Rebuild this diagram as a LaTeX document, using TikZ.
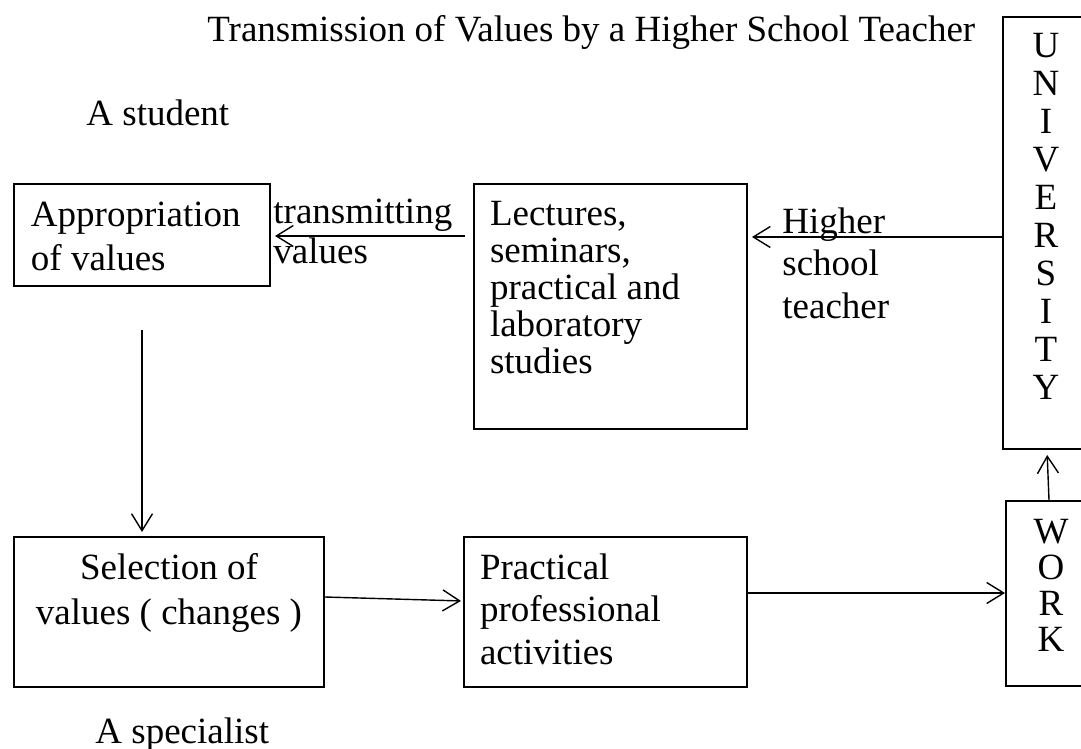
\documentclass[tikz,border=0pt]{standalone}
\usepackage{fontspec}
\setmainfont{Liberation Serif}
\usetikzlibrary{arrows.meta}

\begin{document}
\begin{tikzpicture}[x=0.5pt, y=-0.5pt,
  box/.style={draw, line width=1pt, inner ysep=0pt, anchor=north west,
    font=\fontsize{18.5pt}{#1}\selectfont},
  txt/.style={inner sep=0pt, anchor=base west, align=flush left,
    font=\fontsize{18.5pt}{#1}\selectfont},
  arr/.style={-{Straight Barb[length=8.5pt,width=10.5pt]}, line width=0.7pt}]
\clip (0,0) rectangle (1081,749);

\node[txt=20pt] (title) at (207,42) {Transmission of Values by a Higher School Teacher};
\node[txt=20pt] (student) at (86,126) {A student};
\node[txt=20pt] (specialist) at (95,743) {A specialist};

\node[box=22pt, align=flush left, inner xsep=8.5pt, text width=111pt,
  text height=21pt, text depth=30pt] (appr) at (13,183) {Appropriation\\of values};
\node[box=18.6pt, align=flush left, inner xsep=8pt, text width=120.5pt,
  text height=20.5pt, text depth=102pt] (lect) at (473,183)
  {Lectures,\\seminars,\\practical and\\laboratory\\studies};
\node[box=22.5pt, align=flush center, inner xsep=4pt, text width=147pt,
  text height=21pt, text depth=54pt] (sel) at (13,536) {Selection of\\values ( changes )};
\node[box=21.3pt, align=flush left, inner xsep=8pt, text width=125.5pt,
  text height=21pt, text depth=54pt] (prac) at (463,536)
  {Practical\\professional\\activities};
\node[box=19pt, align=flush center, inner xsep=0pt, text width=43pt,
  text height=20.5pt, text depth=195.5pt] (univ) at (1002,16) {U\\N\\I\\V\\E\\R\\S\\I\\T\\Y};
\node[box=18pt, align=flush center, inner xsep=0pt, text width=45pt,
  text height=21pt, text depth=71.5pt] (work) at (1005,500) {W\\O\\R\\K};

\node[txt=20pt, text width=110pt] (transm) at (273,223) {transmitting\\values};
\node[txt=21.25pt, text width=100pt] (teacher) at (782,233) {Higher\\school\\teacher};

\draw[arr, shorten <=4pt, shorten >=2pt] ([yshift=-26.5pt]lect.north west) -- ([yshift=-26.5pt]appr.north east);
\draw[arr, shorten >=2pt] ([yshift=-110.5pt]univ.north west) -- ([yshift=-27pt]lect.north east);
\draw[arr, shorten <=21.5pt, shorten >=2pt] (appr.south) -- (appr.south |- sel.north);
\draw[arr, shorten >=1pt] ([yshift=-30.5pt]sel.north east) -- ([yshift=-32.5pt]prac.north west);
\draw[arr] ([yshift=-28.5pt]prac.north east) -- ([yshift=-46.5pt]work.north west);
\draw[arr, shorten >=2.5pt] ([xshift=22pt]work.north west) -- ([xshift=22.5pt]univ.south west);

\end{tikzpicture}
\end{document}
